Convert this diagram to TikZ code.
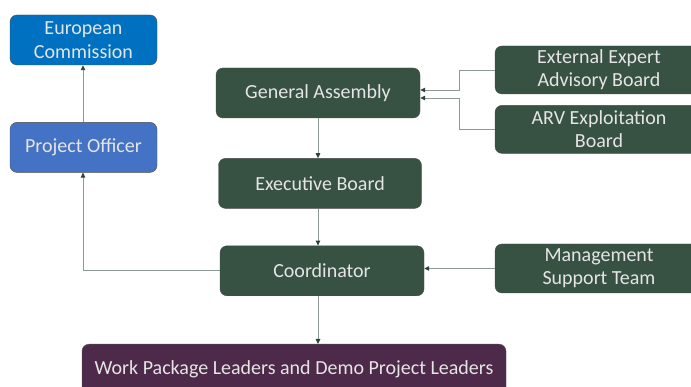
\documentclass[tikz,border=0pt]{standalone}
\usepackage{fontspec}
\setmainfont{Carlito}
\usetikzlibrary{arrows.meta,positioning}
\definecolor{dkgreen}{HTML}{375143}
\definecolor{ecblue}{HTML}{0070C0}
\definecolor{poblue}{HTML}{4472C4}
\definecolor{wpurple}{HTML}{4E2A4A}
\definecolor{linegray}{HTML}{8E9B94}
\definecolor{tipgreen}{HTML}{2F4438}
\tikzset{
  blk/.style={draw=black!70,rectangle,rounded corners=7pt,minimum height=50pt,align=center,
    text=white!90!black,font=\fontsize{20}{24}\selectfont,inner sep=2pt},
  grnblk/.style={blk,fill=dkgreen},
  ecblk/.style={blk,fill=ecblue,minimum width=147pt},
  poblk/.style={blk,fill=poblue,minimum width=147pt},
  wpblk/.style={blk,fill=wpurple,minimum width=424pt},
  sideblk/.style={grnblk,minimum width=208pt,minimum height=48pt,font=\fontsize{20}{23}\selectfont},
  arr/.style={-{Triangle[length=5pt,width=4.5pt,color=tipgreen]},linegray,line width=0.9pt}
}
\begin{document}
\begin{tikzpicture}[x=1pt,y=1pt]
  \clip (0,0) rectangle (691,-387);
  \fill[white] (0,0) rectangle (691,-387);

  \node[grnblk, minimum width=204pt] (assembly) at (318,-93) {General Assembly};
  \node[grnblk, minimum width=203pt, below=40pt of assembly, xshift=2pt] (exec) {Executive Board};
  \node[grnblk, minimum width=204pt, below=37pt of exec, xshift=2pt] (coord) {Coordinator};
  \node[wpblk, below=48pt of coord, xshift=-28pt] (wpl) {Work Package Leaders and Demo Project Leaders};

  \node[ecblk] (ec) at (83.5,-40) {European\\Commission};
  \node[poblk, below=57pt of ec] (po) {Project Officer};

  \node[sideblk] (expert) at (599,-70) {External Expert\\Advisory Board};
  \node[sideblk, below=11pt of expert] (arv) {ARV Exploitation\\Board};
  \node[sideblk, minimum height=49pt] (mst) at (599,-268.5) {Management\\Support Team};

  \draw[arr] (assembly.south -| 318,0) -- (exec.north -| 318,0);
  \draw[arr] (exec.south -| 318,0) -- (coord.north -| 318,0);
  \draw[arr] (coord.south -| 318,0) -- (wpl.north -| 318,0);
  \draw[arr] (po.north -| 83,0) -- (ec.south -| 83,0);
  \draw[arr] (coord.west) -| (po.south -| 83,0);
  \draw[arr] (mst.west) -- (mst.west -| coord.east);

  \draw[arr] (expert.west) -| (459,-90) -- ([yshift=3pt]assembly.east);
  \draw[arr] (arv.west) -| (459,-98) -- ([yshift=-5pt]assembly.east);
\end{tikzpicture}
\end{document}
